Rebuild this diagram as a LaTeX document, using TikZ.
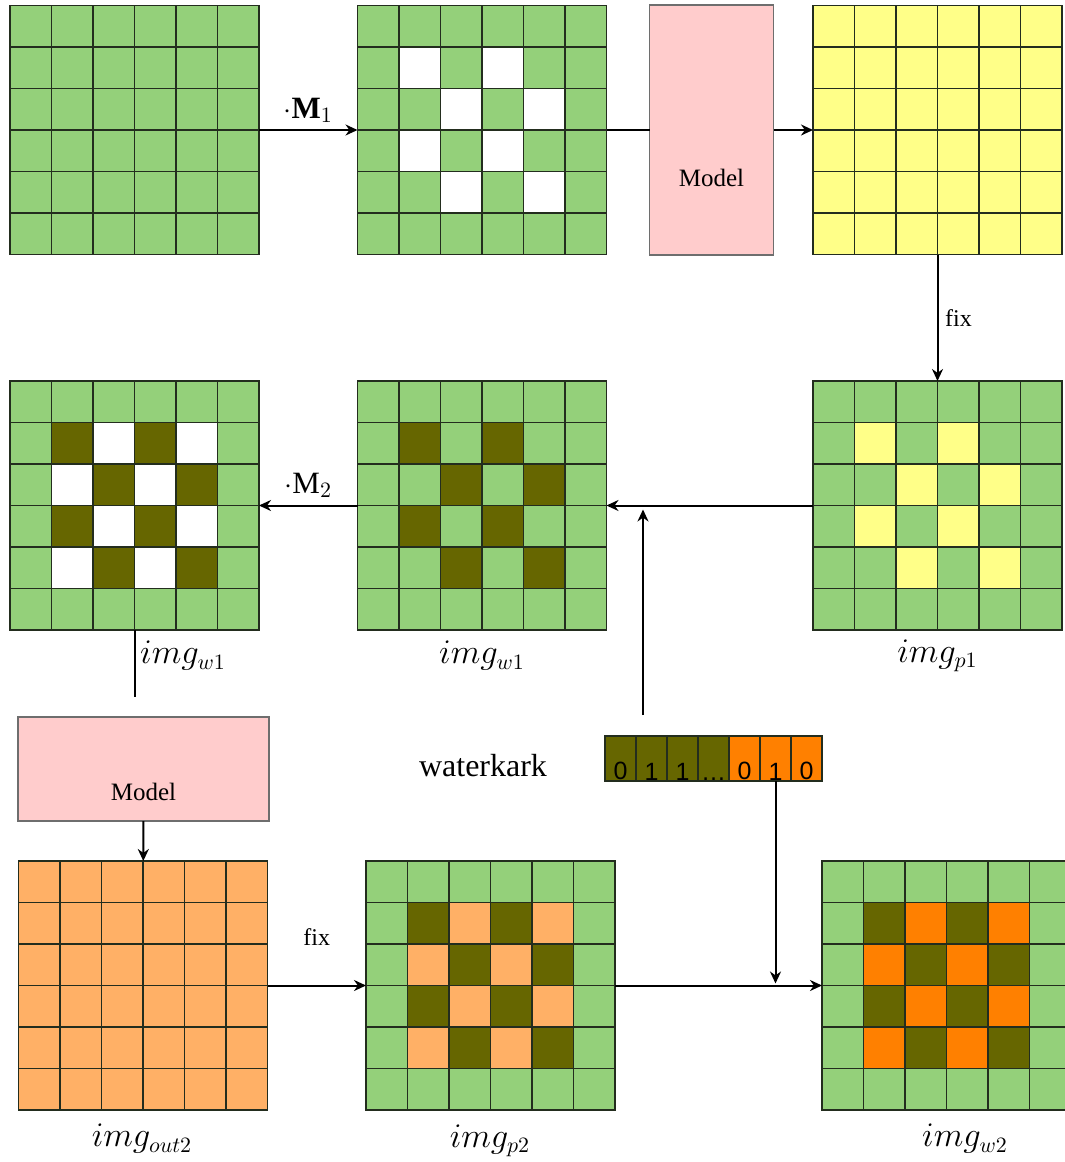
\documentclass[tikz,border=0pt]{standalone}
\usepackage{amsmath}
\usepackage{fontspec}
\setmainfont{Liberation Serif}
\newfontfamily\bitfont{Liberation Sans}
\usetikzlibrary{arrows.meta}
\definecolor{cellgreen}{RGB}{148, 208, 122}
\definecolor{cellyellow}{RGB}{255, 255, 136}
\definecolor{modelpink}{RGB}{255, 204, 204}
\definecolor{markolive}{RGB}{102, 102, 0}
\definecolor{outorange}{RGB}{255, 176, 102}
\definecolor{markorange}{RGB}{255, 128, 0}
\definecolor{gridline}{RGB}{35, 45, 30}
\definecolor{boxline}{RGB}{110, 110, 110}

\tikzset{
  cellline/.style={draw=gridline, line width=0.75pt},
  gridbox/.style={minimum size=124.5pt, inner sep=0pt, outer sep=0pt},
  modelbox/.style={draw=boxline, fill=modelpink, line width=0.6pt, inner sep=0pt, outer sep=0pt},
  bitcell/.style={draw=gridline, line width=0.6pt, minimum width=15.5pt, minimum height=22.5pt, inner sep=0pt, outer sep=0pt},
  arr/.style={-{Stealth[length=6pt, width=5.5pt]}, line width=1pt},
  conn/.style={line width=1pt},
}

% 6x6 grid filled with one colour, on top of a gridbox node
\newcommand{\pixgrid}[2]{%
  \begin{scope}[shift={(#1.north west)}]
    \foreach \r in {0,...,5}
      \foreach \c in {0,...,5}
        \draw[cellline, fill=#2] (\c*41.5, \r*41.5) rectangle ++(41.5, 41.5);
  \end{scope}}
% recolour some cells (row/col list)
\newcommand{\pixmark}[3]{%
  \begin{scope}[shift={(#1.north west)}]
    \foreach \r/\c in #3
      \draw[cellline, fill=#2] (\c*41.5, \r*41.5) rectangle ++(41.5, 41.5);
  \end{scope}}
\def\patA{1/1,1/3,2/2,2/4,3/1,3/3,4/2,4/4}
\def\patB{1/2,1/4,2/1,2/3,3/2,3/4,4/1,4/3}

\begin{document}
\begin{tikzpicture}[x=0.5pt, y=-0.5pt]
        \useasboundingbox (0, 0) rectangle (1065, 1162);

        % ---- TOP ROW ----
        \node[gridbox] (imgA) at (134.5, 130) {};
        \pixgrid{imgA}{cellgreen}

        \node[gridbox] (imgB) at (482, 130) {};
        \pixgrid{imgB}{cellgreen}
        \pixmark{imgB}{white}{\patA}

        \node[modelbox, minimum width=62pt, minimum height=125pt,
              label={[yshift=-24pt, font=\fontsize{12.5}{14}\selectfont]center:Model}] (model1) at (711.5, 130) {};

        \node[gridbox] (imgC) at (937.5, 130) {};
        \pixgrid{imgC}{cellyellow}

        \draw[arr] (imgA) -- node[above, font=\fontsize{15.5}{17}\selectfont] {$\cdot\mathbf{M}_1$} (imgB);
        \draw[conn] (imgB) -- (model1);
        \draw[arr] (model1) -- (imgC);

        % ---- MIDDLE ROW ----
        \node[gridbox] (imgF) at (937.5, 505.5) {};
        \pixgrid{imgF}{cellgreen}
        \pixmark{imgF}{cellyellow}{\patA}

        \node[gridbox] (imgE) at (482, 505.5) {};
        \pixgrid{imgE}{cellgreen}
        \pixmark{imgE}{markolive}{\patA}

        \node[gridbox] (imgD) at (134.5, 505.5) {};
        \pixgrid{imgD}{cellgreen}
        \pixmark{imgD}{markolive}{\patA}
        \pixmark{imgD}{white}{\patB}

        \draw[arr] (imgC) -- node[right, font=\fontsize{12}{14}\selectfont] {fix} (imgF);
        \draw[arr] (imgF) -- (imgE);
        \draw[arr] (imgE) -- node[above, font=\fontsize{15.5}{17}\selectfont] {$\cdot\mathrm{M}_2$} (imgD);

        \node[font=\fontsize{16}{18}\selectfont] (labD) at (183, 656) {$img_{w1}$};
        \node[font=\fontsize{16}{18}\selectfont] (labE) at (482, 656) {$img_{w1}$};
        \node[font=\fontsize{16}{18}\selectfont] (labF) at (937.5, 656) {$img_{p1}$};

        % ---- WATERMARK ----
        \node[font=\fontsize{16}{18}\selectfont] (wmtext) at (483, 766) {waterkark};
        \foreach \v/\col [count=\i] in {0/markolive,1/markolive,1/markolive,\ldots/markolive,0/markorange,1/markorange,0/markorange}
          \node[bitcell, fill=\col,
                label={[anchor=south, inner sep=0.3pt, font=\bitfont\fontsize{12.5}{13}\selectfont]south:\v}] (bit\i) at (589.5+31*\i, 758.5) {};
        \coordinate (wmtop) at (643, 715);
        \draw[arr, shorten >=2pt] (wmtop) -- (wmtop |- imgE.east);

        % ---- BOTTOM ROW ----
        \coordinate (cut) at (134.5, 697);
        \draw[conn] (imgD.south) -- (cut);

        \node[modelbox, minimum width=125.5pt, minimum height=52pt,
              label={[yshift=-11.5pt, font=\fontsize{12.5}{14}\selectfont]center:Model}] (model2) at (143.5, 769) {};

        \node[gridbox] (imgG) at (143, 985.5) {};
        \pixgrid{imgG}{outorange}

        \node[gridbox] (imgH) at (490.5, 985.5) {};
        \pixgrid{imgH}{cellgreen}
        \pixmark{imgH}{markolive}{\patA}
        \pixmark{imgH}{outorange}{\patB}

        \node[gridbox] (imgI) at (946.5, 985.5) {};
        \pixgrid{imgI}{cellgreen}
        \pixmark{imgI}{markolive}{\patA}
        \pixmark{imgI}{markorange}{\patB}

        \draw[arr] (model2) -- (imgG);
        \draw[arr] (imgG) -- node[above, yshift=16pt, font=\fontsize{12}{14}\selectfont] {fix} (imgH);
        \draw[arr] (imgH) -- (imgI);
        \draw[arr, shorten >=1pt] (bit6.south) -- (bit6.south |- imgI.west);

        \node[font=\fontsize{16}{18}\selectfont] (labG) at (142, 1139) {$img_{out2}$};
        \node[font=\fontsize{16}{18}\selectfont] (labH) at (490, 1141) {$img_{p2}$};
        \node[font=\fontsize{16}{18}\selectfont] (labI) at (965, 1139) {$img_{w2}$};
      \end{tikzpicture}
\end{document}
